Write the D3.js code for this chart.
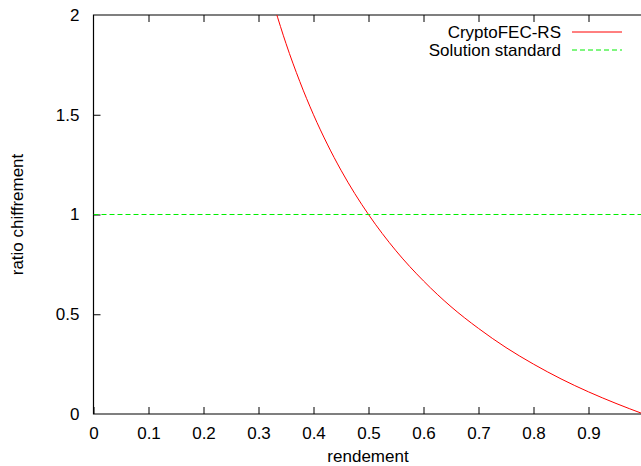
<!DOCTYPE html>
<html><head><meta charset="utf-8">
<script src="https://cdn.jsdelivr.net/npm/d3@7"></script>
<style>body{margin:0;background:#fff}svg{display:block}text{font-family:"Liberation Sans",Arial,sans-serif}</style>
</head><body>
<script>
const xTicks=[0,0.1,0.2,0.3,0.4,0.5,0.6,0.7,0.8,0.9,1];
const yTicks=[0,0.5,1,1.5,2];
const seriesNames=["CryptoFEC-RS","Solution standard"];
const rendement=[0.33,0.35,0.375,0.4,0.425,0.45,0.475,0.5,0.55,0.6,0.65,0.7,0.75,0.8,0.85,0.9,0.95,1.0];
const cryptoRatio=[2.03,1.857,1.667,1.5,1.353,1.222,1.105,1.0,0.818,0.667,0.538,0.429,0.333,0.25,0.176,0.111,0.053,0];
const stdX=[0,1];
const stdRatio=[1,1];

const W=641,H=466;
const m={l:93.5,t:15,w:550,h:399};
const svg=d3.select("body").append("svg").attr("width",W).attr("height",H);
const x=d3.scaleLinear().domain([0,1]).range([m.l,m.l+m.w]);
const y=d3.scaleLinear().domain([0,2]).range([m.t+m.h,m.t]);
const fs=17;

svg.append("defs").append("clipPath").attr("id","pc").append("rect")
 .attr("x",m.l).attr("y",m.t).attr("width",m.w).attr("height",m.h);

const gx=svg.append("g").attr("transform",`translate(0,${y(0)})`)
 .call(d3.axisBottom(x).tickValues(xTicks.slice(0,-1)).tickSizeInner(-7).tickSizeOuter(0).tickPadding(13).tickFormat(d3.format("")));
const gxt=svg.append("g").attr("transform",`translate(0,${y(2)})`)
 .call(d3.axisTop(x).tickValues(xTicks.slice(1,-1)).tickSizeInner(-7).tickSizeOuter(0).tickFormat(""));
const gy=svg.append("g").attr("transform",`translate(${x(0)},0)`)
 .call(d3.axisLeft(y).tickValues(yTicks.slice(1,-1)).tickSizeInner(-7).tickSizeOuter(0).tickPadding(14).tickFormat(d3.format("")));
const gy2=svg.append("g").attr("transform",`translate(${x(0)},0)`)
 .call(d3.axisLeft(y).tickValues([0,2]).tickSize(0).tickPadding(14).tickFormat(d3.format("")));
[gx,gxt,gy,gy2].forEach(g=>{
 g.selectAll(".domain").remove();
 g.selectAll("line").attr("stroke","#000").attr("stroke-width",1);
 g.selectAll("text").attr("font-size",fs).attr("fill","#000").attr("font-family","Liberation Sans, Arial, sans-serif");
});
gx.selectAll("text").attr("dy","0.71em");
svg.append("path").attr("fill","none").attr("stroke","#000").attr("stroke-width",1.2)
 .attr("d",`M${x(1)},${y(0)}H${x(0)}V${y(2)}H${x(1)}`);

const lineCrypto=d3.line().x((d,i)=>x(rendement[i])).y(d=>y(d)).curve(d3.curveMonotoneX);
svg.append("path").attr("clip-path","url(#pc)").attr("fill","none").attr("stroke","#ff0000").attr("stroke-width",1)
 .attr("d",lineCrypto(cryptoRatio));
const lineStd=d3.line().x((d,i)=>x(stdX[i])).y(d=>y(d));
svg.append("path").attr("clip-path","url(#pc)").attr("fill","none").attr("stroke","#00ee00").attr("stroke-width",1)
 .attr("stroke-dasharray","5,3").attr("d",lineStd(stdRatio));

const lg=[{n:seriesNames[0],c:"#ff0000",d:null,yy:32},{n:seriesNames[1],c:"#00ee00",d:"5,3",yy:50}];
lg.forEach(e=>{
 svg.append("text").attr("x",561).attr("y",e.yy).attr("dy","0.35em").attr("text-anchor","end").attr("font-size",fs).text(e.n);
 svg.append("line").attr("x1",572).attr("x2",622).attr("y1",e.yy).attr("y2",e.yy).attr("stroke",e.c).attr("stroke-width",1).attr("stroke-dasharray",e.d);
});

svg.append("text").attr("x",368).attr("y",462).attr("text-anchor","middle").attr("font-size",fs).text("rendement");
svg.append("text").attr("transform",`translate(17,${y(1)}) rotate(-90)`).attr("text-anchor","middle").attr("dy","0.35em").attr("font-size",fs).text("ratio chiffrement");
</script>
</body></html>
